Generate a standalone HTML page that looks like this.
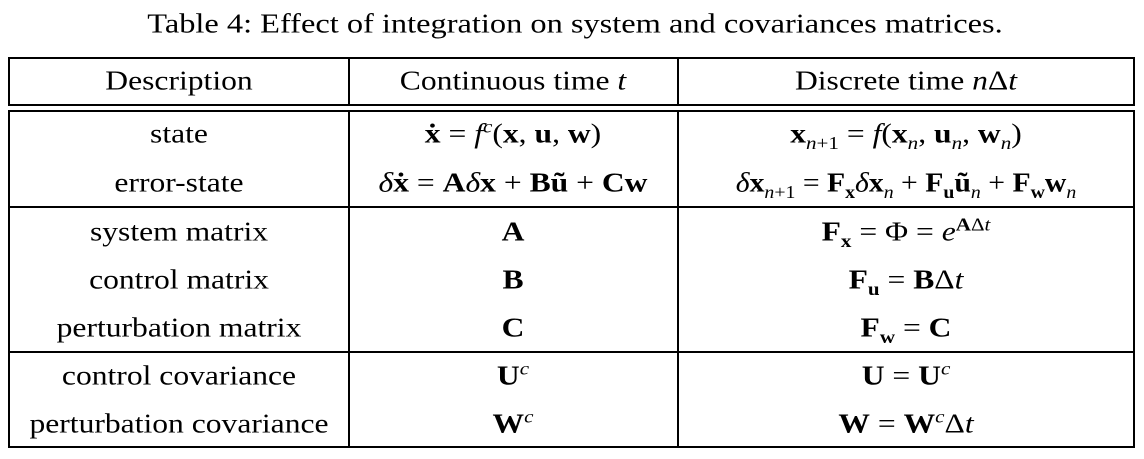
<!DOCTYPE html>
<html><head><meta charset="utf-8"><style>
body{margin:0;width:1144px;height:459px;background:#fff;position:relative;font-family:"Liberation Serif",serif;color:#000;overflow:hidden}
.l{position:absolute;background:#000}
.t{position:absolute;font-size:27px;white-space:nowrap;transform:translate(-50%,-50%) scaleX(1.17);line-height:1}
b{font-weight:bold}
i{font-style:italic}
sub,sup{font-size:18px;line-height:0}
</style></head><body>
<div class="t" style="left:575px;top:24px;transform:translate(-50%,-50%) scaleX(1.2)">Table 4: Effect of integration on system and covariances matrices.</div>
<div>
<div class="l" style="left:8px;top:57px;width:1127px;height:1.5px"></div>
<div class="l" style="left:8px;top:104px;width:1127px;height:1.5px"></div>
<div class="l" style="left:8px;top:110px;width:1127px;height:1.5px"></div>
<div class="l" style="left:8px;top:206px;width:1127px;height:1.5px"></div>
<div class="l" style="left:8px;top:351px;width:1127px;height:1.5px"></div>
<div class="l" style="left:8px;top:446px;width:1127px;height:1.5px"></div>
<div class="l" style="left:8px;top:57px;width:1.5px;height:48px"></div>
<div class="l" style="left:8px;top:110px;width:1.5px;height:338px"></div>
<div class="l" style="left:1133px;top:57px;width:1.5px;height:48px"></div>
<div class="l" style="left:1133px;top:110px;width:1.5px;height:338px"></div>
<div class="l" style="left:348px;top:57px;width:1.5px;height:48px"></div>
<div class="l" style="left:348px;top:110px;width:1.5px;height:338px"></div>
<div class="l" style="left:677px;top:57px;width:1.5px;height:48px"></div>
<div class="l" style="left:677px;top:110px;width:1.5px;height:338px"></div>
</div>
<div class="t" style="left:179px;top:81px">Description</div>
<div class="t" style="left:513px;top:81px">Continuous time <i>t</i></div>
<div class="t" style="left:906px;top:81px">Discrete time <i>n</i>Δ<i>t</i></div>

<div class="t" style="left:179px;top:134px">state</div>
<div class="t" style="left:513px;top:134px"><b>ẋ</b> = <i>f</i><sup><i>c</i></sup>(<b>x</b>, <b>u</b>, <b>w</b>)</div>
<div class="t" style="left:906px;top:134px"><b>x</b><sub><i>n</i>+1</sub> = <i>f</i>(<b>x</b><sub><i>n</i></sub>, <b>u</b><sub><i>n</i></sub>, <b>w</b><sub><i>n</i></sub>)</div>

<div class="t" style="left:179px;top:183px">error-state</div>
<div class="t" style="left:513px;top:183px"><i>δ</i><b>ẋ</b> = <b>A</b><i>δ</i><b>x</b> + <b>Bũ</b> + <b>Cw</b></div>
<div class="t" style="left:906px;top:183px;transform:translate(-50%,-50%) scaleX(1.1)"><i>δ</i><b>x</b><sub><i>n</i>+1</sub> = <b>F<sub>x</sub></b><i>δ</i><b>x</b><sub><i>n</i></sub> + <b>F<sub>u</sub>ũ</b><sub><i>n</i></sub> + <b>F<sub>w</sub>w</b><sub><i>n</i></sub></div>

<div class="t" style="left:179px;top:232px">system matrix</div>
<div class="t" style="left:513px;top:232px"><b>A</b></div>
<div class="t" style="left:906px;top:232px"><b>F<sub>x</sub></b> = Φ = <i>e</i><sup><b>A</b>Δ<i>t</i></sup></div>

<div class="t" style="left:179px;top:280px">control matrix</div>
<div class="t" style="left:513px;top:280px"><b>B</b></div>
<div class="t" style="left:906px;top:280px"><b>F<sub>u</sub></b> = <b>B</b>Δ<i>t</i></div>

<div class="t" style="left:179px;top:328px">perturbation matrix</div>
<div class="t" style="left:513px;top:328px"><b>C</b></div>
<div class="t" style="left:906px;top:328px"><b>F<sub>w</sub></b> = <b>C</b></div>

<div class="t" style="left:179px;top:376px">control covariance</div>
<div class="t" style="left:513px;top:376px"><b>U</b><sup><i>c</i></sup></div>
<div class="t" style="left:906px;top:376px"><b>U</b> = <b>U</b><sup><i>c</i></sup></div>

<div class="t" style="left:179px;top:424px">perturbation covariance</div>
<div class="t" style="left:513px;top:424px"><b>W</b><sup><i>c</i></sup></div>
<div class="t" style="left:906px;top:424px"><b>W</b> = <b>W</b><sup><i>c</i></sup>Δ<i>t</i></div>
</body></html>
